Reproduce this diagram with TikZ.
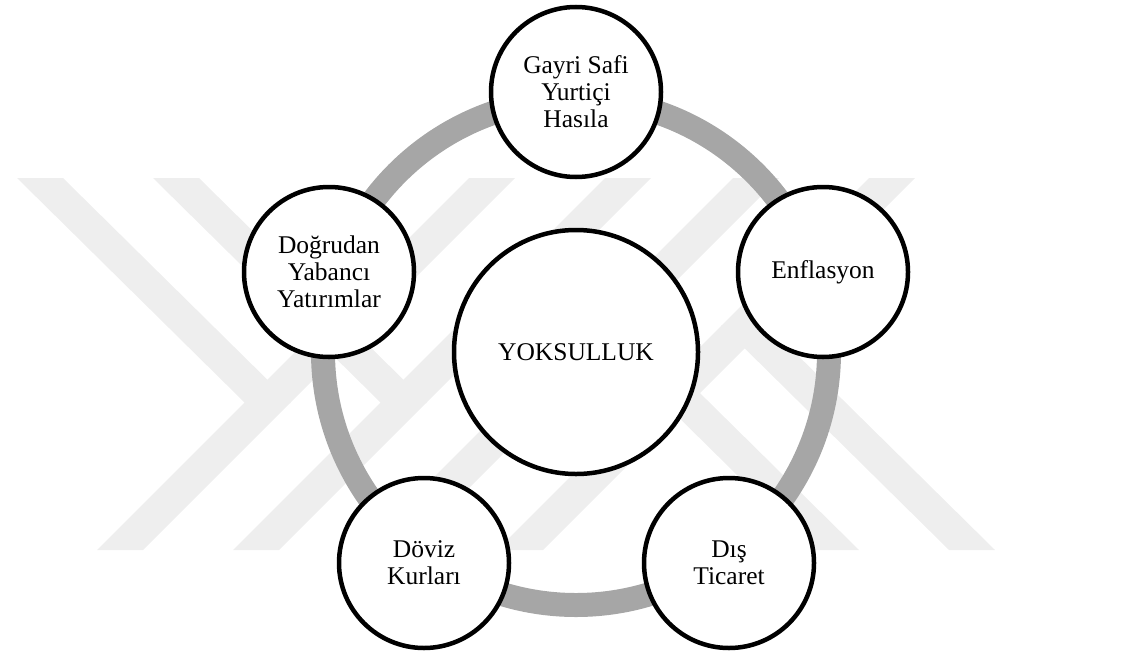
\documentclass[tikz,border=0pt]{standalone}
\usepackage{fontspec}
\setmainfont{Liberation Serif}
\usepackage{tikz}
\usetikzlibrary{positioning}
\definecolor{ringgray}{HTML}{A6A6A6}
\definecolor{wmgray}{HTML}{EEEEEE}

\begin{document}
\begin{tikzpicture}[x=1pt, y=-1pt,
      factor/.style={circle, draw=black, line width=4.5pt, fill=white, minimum size=170pt,
                     inner sep=0pt, align=center, font=\fontsize{25.5}{27}\selectfont},
      hub/.style={factor, minimum size=244pt},
      ring/.style={draw=ringgray, line width=24pt},
      wmark/.style={fill=wmgray}]
    \useasboundingbox (0,0) rectangle (1139,653);
    % faint watermark in the background
    \foreach \r in {0,180} {
      \begin{scope}[rotate around={\r:(506,364)}]
        \foreach \s in {0,136} {
          \fill[wmark] (97+\s,550) -- (143+\s,550) -- (515+\s,178) -- (469+\s,178) -- cycle;
          \fill[wmark] (17+\s,178) -- (63+\s,178) -- (291+\s,403) -- (245+\s,403) -- cycle;
        }
      \end{scope}
    }
    \coordinate (mid) at (576,352);
    \draw[ring] (mid) circle[radius=253];
    \node[hub] (pov) at (mid) {YOKSULLUK};
    \node[factor] (gdp) at (576,92) {Gayri Safi\\Yurtiçi\\Hasıla};
    \node[factor] (infl) at (823,272) {Enflasyon};
    \node[factor] (trade) at (729,563) {Dış\\Ticaret};
    \node[factor] (fx) at (424,563) {Döviz\\Kurları};
    \node[factor] (fdi) at (329,272) {Doğrudan\\Yabancı\\Yatırımlar};
  \end{tikzpicture}
\end{document}
